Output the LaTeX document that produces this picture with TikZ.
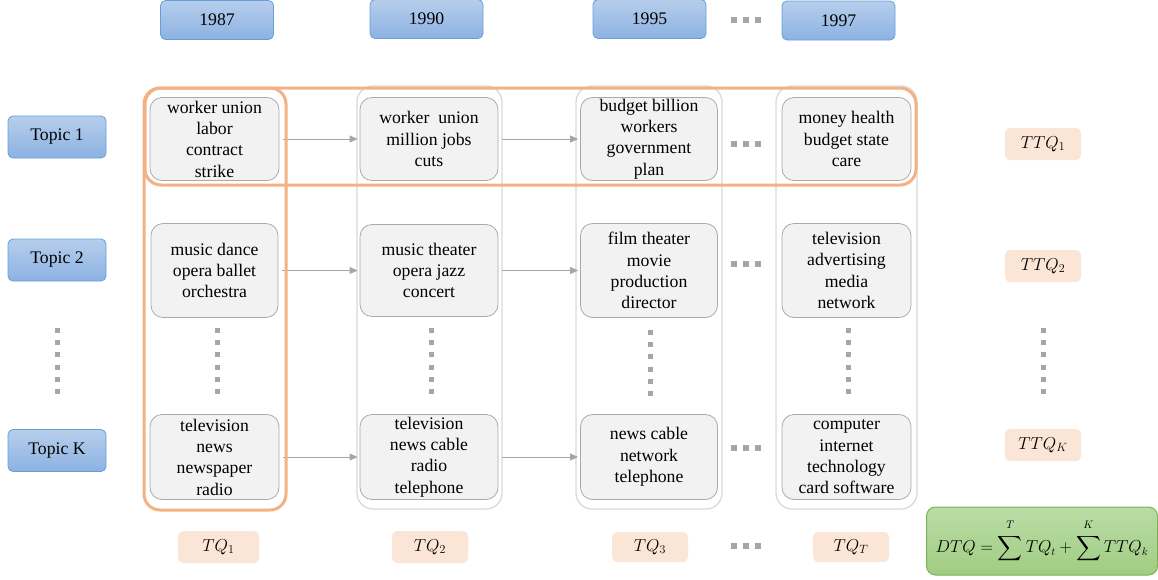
\documentclass[tikz,border=0pt]{standalone}
\usepackage{fontspec}
\setmainfont{Liberation Serif}
\usepackage{amsmath}
\usetikzlibrary{arrows.meta}
\definecolor{blueedge}{RGB}{104,158,214}
\definecolor{bluetop}{RGB}{182,206,236}
\definecolor{bluebot}{RGB}{140,178,226}
\definecolor{boxedge}{RGB}{170,170,170}
\definecolor{boxfill}{RGB}{242,242,242}
\definecolor{framegray}{RGB}{217,217,217}
\definecolor{hiorange}{RGB}{244,177,131}
\definecolor{peach}{RGB}{251,229,214}
\definecolor{dotgray}{RGB}{166,166,166}
\definecolor{greentop}{RGB}{186,220,166}
\definecolor{greenbot}{RGB}{160,205,130}
\definecolor{greenedge}{RGB}{122,178,84}
\tikzset{
  label font/.style={font=\fontsize{17.7}{21.3}\selectfont},
  yearbox/.style={draw=blueedge, line width=0.8pt, top color=bluetop, bottom color=bluebot,
    rounded corners=5pt, minimum width=113pt, minimum height=39pt, inner sep=0pt, label font},
  topicbox/.style={yearbox, minimum width=98pt, minimum height=42pt},
  words/.style={draw=boxedge, fill=boxfill, line width=0.8pt, rounded corners=12pt,
    align=center, inner sep=0pt, label font, yshift=-1.5pt},
  score/.style={fill=peach, rounded corners=5pt, minimum width=76pt, minimum height=32pt,
    inner sep=0pt, label font},
  colframe/.style={draw=framegray, line width=1.3pt, rounded corners=16pt},
  hilite/.style={draw=hiorange, line width=3pt, rounded corners=16pt},
  flow/.style={-{Triangle[length=8pt,width=7pt]}, draw=dotgray, fill=dotgray, line width=1pt,
    shorten <=4pt, shorten >=2pt},
  vdots/.style={draw=dotgray, line width=5pt, dash pattern=on 5pt off 7.2pt},
  hdots/.style={draw=dotgray, line width=6pt, dash pattern=on 6pt off 6pt}
}
\begin{document}
\begin{tikzpicture}[x=1pt,y=-1pt]
	\useasboundingbox (0,0) rectangle (1158,579);
	\node[yearbox] (y1) at (217,20) {1987};
	\node[yearbox] (y2) at (426.5,19) {1990};
	\node[yearbox] (y3) at (649.5,19) {1995};
	\node[yearbox] (y4) at (838.5,20.5) {1997};
	\draw[hdots] (731,20) -- (761,20);
	\node[topicbox] (t1) at (57,137) {Topic 1};
	\node[topicbox] (t2) at (57,260) {Topic 2};
	\node[topicbox] (tk) at (57,450.5) {Topic K};
	\draw[vdots] (57,328) -- (57,394);
	\draw[colframe] (357,86) rectangle (502,509);
	\draw[colframe] (576,86) rectangle (722,509);
	\draw[colframe] (776,86) rectangle (917,509);
	\node[words, minimum width=129pt, minimum height=83pt] (w11) at (214.5,137.5) {worker union\\labor\\contract\\strike};
	\node[words, minimum width=138pt, minimum height=83pt] (w12) at (429,137.5) {worker~ union\\million jobs\\cuts};
	\node[words, minimum width=137pt, minimum height=83pt] (w13) at (649,137.5) {budget billion\\workers\\government\\plan};
	\node[words, minimum width=129pt, minimum height=83pt] (w14) at (846.5,137.5) {money health\\budget state\\care};
	\node[words, minimum width=127pt, minimum height=94pt] (w21) at (214.5,269) {music dance\\opera ballet\\orchestra};
	\node[words, minimum width=138pt, minimum height=92pt] (w22) at (429,269) {music theater\\opera jazz\\concert};
	\node[words, minimum width=137pt, minimum height=94pt] (w23) at (649,269) {film theater\\movie\\production\\director};
	\node[words, minimum width=129pt, minimum height=94pt] (w24) at (846.5,269) {television\\advertising\\media\\network};
	\node[words, minimum width=129pt, minimum height=85pt] (wk1) at (214.5,455.5) {television\\news\\newspaper\\radio};
	\node[words, minimum width=138pt, minimum height=85pt] (wk2) at (429,455.5) {television\\news cable\\radio\\telephone};
	\node[words, minimum width=137pt, minimum height=85pt] (wk3) at (649,455.5) {news cable\\network\\telephone};
	\node[words, minimum width=129pt, minimum height=85pt] (wk4) at (846.5,455.5) {computer\\internet\\technology\\card software};
	\draw[flow] (w11) -- (w12);
	\draw[flow] (w12) -- (w13);
	\draw[flow] (w21) -- (w22);
	\draw[flow] (w22) -- (w23);
	\draw[flow] (wk1) -- (wk2);
	\draw[flow] (wk2) -- (wk3);
	\draw[hdots] (731,144) -- (761,144);
	\draw[hdots] (731,264) -- (761,264);
	\draw[hdots] (731,448) -- (761,448);
	\draw[vdots] (217,328) -- (217,394);
	\draw[vdots] (431,328) -- (431,394);
	\draw[vdots] (650,330) -- (650,396);
	\draw[vdots] (848,328) -- (848,394);
	\draw[hilite] (144,88) rectangle (286,510);
	\draw[hilite] (145,88) rectangle (916,185);
	\node[score, minimum width=81pt] (q1) at (218.5,547) {$TQ_1$};
	\node[score] (q2) at (430,547) {$TQ_2$};
	\node[score, minimum height=30pt] (q3) at (650,547) {$TQ_3$};
	\node[score, minimum height=30pt] (qt) at (851,547) {$TQ_T$};
	\draw[hdots] (731,546) -- (761,546);
	\node[score] (r1) at (1043,144) {$TTQ_1$};
	\node[score] (r2) at (1043,266) {$TTQ_2$};
	\draw[vdots] (1043,328) -- (1043,394);
	\node[score] (rk) at (1043,445) {$TTQ_K$};
	\node[draw=greenedge, line width=1pt, top color=greentop, bottom color=greenbot, rounded corners=9pt,
	  minimum width=231pt, minimum height=68pt, inner sep=0pt, font=\fontsize{16.2}{20}\selectfont] (dtq) at (1042,541)
	  {$DTQ=\displaystyle\sum^{\raisebox{2.5pt}{$\scriptstyle T$}} TQ_t+\sum^{\raisebox{2.5pt}{$\scriptstyle K$}} TTQ_k$};
\end{tikzpicture}
\end{document}
